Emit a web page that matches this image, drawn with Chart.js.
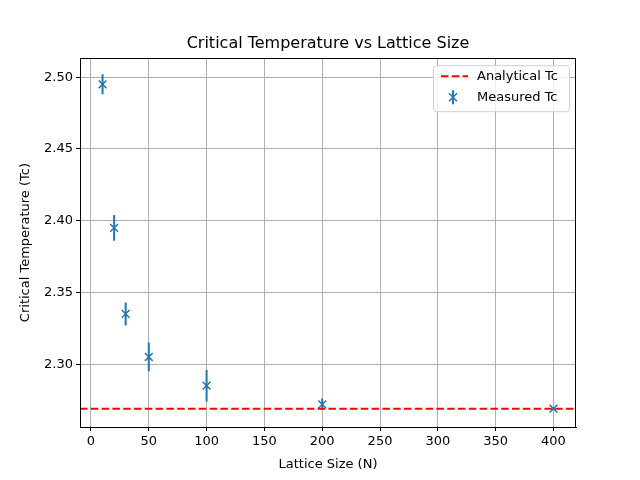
<!DOCTYPE html>
<html>
<head>
<meta charset="utf-8">
<script src="https://cdn.jsdelivr.net/npm/chart.js@4/dist/chart.umd.min.js"></script>
<style>
  html, body { margin: 0; padding: 0; background: #fff; }
  #wrap { width: 640px; height: 480px; }
</style>
</head>
<body>
<div id="wrap"><canvas id="tc-chart" width="640" height="480"></canvas></div>
<script>
// values
var latticeSizes = [10, 20, 30, 50, 100, 200, 400];
var measuredTc = [2.495, 2.395, 2.335, 2.305, 2.285, 2.272, 2.269];
var tcErrors = [0.007, 0.009, 0.008, 0.010, 0.011, 0.004, 0.001];
var analyticalTc = 2.269;
var xTickVals = [0, 50, 100, 150, 200, 250, 300, 350, 400];
var yTickVals = [2.30, 2.35, 2.40, 2.45, 2.50];

var xMin = -9.5, xMax = 419.5;
var yMin = 2.2562, yMax = 2.5132;
var blue = '#1f77b4';
var fontName = "'DejaVu Sans', sans-serif";

Chart.defaults.font.family = fontName;
Chart.defaults.color = '#000';

var measuredPoints = [];
for (var i = 0; i < latticeSizes.length; i++) {
    measuredPoints.push({x: latticeSizes[i], y: measuredTc[i]});
}

// error bars, frame and legend box
var extras = {
    id: 'extras',
    beforeDatasetsDraw: function(chart) {
        var ctx = chart.ctx;
        var xs = chart.scales.x, ys = chart.scales.y;
        var a = chart.chartArea;
        ctx.save();
        ctx.beginPath();
        ctx.rect(a.left, a.top, a.right - a.left, a.bottom - a.top);
        ctx.clip();
        ctx.strokeStyle = blue;
        ctx.lineWidth = 2;
        for (var i = 0; i < latticeSizes.length; i++) {
            var px = xs.getPixelForValue(latticeSizes[i]);
            ctx.beginPath();
            ctx.moveTo(px, ys.getPixelForValue(measuredTc[i] - tcErrors[i]));
            ctx.lineTo(px, ys.getPixelForValue(measuredTc[i] + tcErrors[i]));
            ctx.stroke();
        }
        ctx.restore();
    },
    afterDraw: function(chart) {
        var ctx = chart.ctx;
        var a = chart.chartArea;
        ctx.save();
        ctx.strokeStyle = '#000';
        ctx.lineWidth = 1;
        ctx.strokeRect(Math.round(a.left) + 0.5, Math.round(a.top) + 0.5,
                       Math.round(a.right - a.left) - 1, Math.round(a.bottom - a.top));

        // legend
        var bx = a.right - 143, by = a.top + 7, bw = 136, bh = 46;
        ctx.fillStyle = 'rgba(255,255,255,0.8)';
        ctx.strokeStyle = '#d0d0d0';
        ctx.beginPath();
        ctx.roundRect(bx + 0.5, by + 0.5, bw, bh, 3);
        ctx.fill();
        ctx.stroke();

        ctx.strokeStyle = 'red';
        ctx.lineWidth = 2;
        ctx.setLineDash([7.5, 3.3]);
        ctx.beginPath();
        ctx.moveTo(bx + 8, by + 11);
        ctx.lineTo(bx + 35, by + 11);
        ctx.stroke();
        ctx.setLineDash([]);

        var mx = bx + 20, my = by + 32;
        ctx.strokeStyle = blue;
        ctx.beginPath();
        ctx.moveTo(mx, my - 7);
        ctx.lineTo(mx, my + 7);
        ctx.stroke();
        ctx.lineWidth = 1.5;
        ctx.beginPath();
        ctx.moveTo(mx - 4, my - 4);
        ctx.lineTo(mx + 4, my + 4);
        ctx.moveTo(mx - 4, my + 4);
        ctx.lineTo(mx + 4, my - 4);
        ctx.stroke();

        ctx.fillStyle = '#000';
        ctx.font = '13px ' + fontName;
        ctx.textBaseline = 'middle';
        ctx.fillText('Analytical Tc', bx + 44, by + 11);
        ctx.fillText('Measured Tc', bx + 44, by + 32);
        ctx.restore();
    }
};

var chart = new Chart(document.getElementById('tc-chart').getContext('2d'), {
    type: 'scatter',
    data: {
        datasets: [{
            label: 'Analytical Tc',
            type: 'line',
            data: [{x: xMin, y: analyticalTc}, {x: xMax, y: analyticalTc}],
            borderColor: 'red',
            borderWidth: 2,
            borderDash: [7.5, 3.3],
            pointRadius: 0,
            fill: false
        }, {
            label: 'Measured Tc',
            data: measuredPoints,
            pointStyle: 'crossRot',
            pointRadius: 5.5,
            pointBorderWidth: 1.5,
            borderColor: blue,
            backgroundColor: blue
        }]
    },
    options: {
        responsive: false,
        animation: false,
        layout: { padding: { left: 0, right: 64, top: 0, bottom: 0 } },
        plugins: {
            legend: { display: false },
            tooltip: { enabled: false },
            title: {
                display: true,
                text: 'Critical Temperature vs Lattice Size',
                fullSize: false,
                color: '#000',
                font: { size: 16, weight: 'normal' },
                padding: { top: 34, bottom: 5 }
            }
        },
        scales: {
            x: {
                type: 'linear',
                min: xMin,
                max: xMax,
                afterBuildTicks: function(scale) {
                    scale.ticks = xTickVals.map(function(v) { return {value: v}; });
                },
                afterFit: function(scale) { scale.height = 53; },
                ticks: {
                    font: { size: 13 },
                    padding: 3,
                    maxRotation: 0,
                    callback: function(v) { return String(v); }
                },
                grid: { color: '#b0b0b0', lineWidth: 1, tickColor: '#000', tickLength: 4 },
                border: { color: '#000' },
                title: {
                    display: true,
                    text: 'Lattice Size (N)',
                    font: { size: 13 },
                    padding: { top: 4, bottom: 8 }
                }
            },
            y: {
                type: 'linear',
                min: yMin,
                max: yMax,
                afterBuildTicks: function(scale) {
                    scale.ticks = yTickVals.map(function(v) { return {value: v}; });
                },
                afterFit: function(scale) { scale.width = 80; },
                ticks: {
                    font: { size: 13 },
                    padding: 3,
                    callback: function(v) { return v.toFixed(2); }
                },
                grid: { color: '#b0b0b0', lineWidth: 1, tickColor: '#000', tickLength: 4 },
                border: { color: '#000' },
                title: {
                    display: true,
                    text: 'Critical Temperature (Tc)',
                    font: { size: 13 },
                    padding: { top: 18, bottom: 4 }
                }
            }
        }
    },
    plugins: [extras]
});
</script>
</body>
</html>
